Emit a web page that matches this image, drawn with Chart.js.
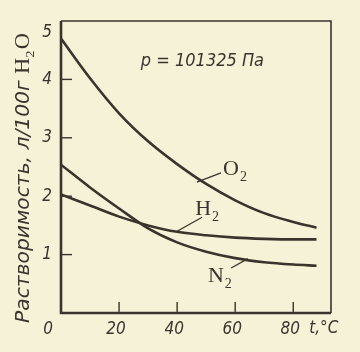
<!DOCTYPE html>
<html><head><meta charset="utf-8">
<script src="https://cdn.jsdelivr.net/npm/chart.js@4"></script>
<style>html,body{margin:0;padding:0;background:#f5f2d8;}canvas{display:block}</style>
</head><body>
<canvas id="c" width="360" height="352"></canvas>
<script>
const temps = [0,10,20,30,40,50,60,70,80,88];
const o2 = [4.70,4.02,3.42,2.94,2.55,2.21,1.93,1.71,1.56,1.46];
const h2 = [2.03,1.84,1.65,1.50,1.39,1.33,1.29,1.27,1.26,1.26];
const n2 = [2.54,2.15,1.79,1.45,1.21,1.05,0.94,0.87,0.83,0.81];
const xTickValues = [0,20,40,60,80];
const xTickLabels = ['0','20','40','60','80'];
const yTickValues = [1,2,3,4,5];
const yTickLabels = ['1','2','3','4','5'];
const xUnit = 't,°C';
const yTitleMain = 'Растворимость, л/100г ';
const pressureText = 'p = 101325 Па';

const INK = 'rgb(58,52,44)';
const BG = 'rgb(245,242,216)';
const SANS_I = (s)=>`italic ${s}px "DejaVu Sans Condensed","Liberation Sans Narrow","DejaVu Sans",sans-serif`;
const SERIF = (s)=>`${s}px "Liberation Serif","DejaVu Serif",serif`;

const mk = (arr)=>temps.map((t,i)=>({x:t,y:arr[i]}));

function gasLabel(ctx, x, y, letter){
  ctx.font = SERIF(22);
  ctx.fillText(letter, x, y);
  const w = ctx.measureText(letter).width;
  ctx.font = SERIF(14);
  ctx.fillText('2', x + w + 1, y + 6);
}

const deco = {
  id:'deco',
  beforeDraw(chart){
    const ctx = chart.ctx;
    ctx.save(); ctx.fillStyle = BG; ctx.fillRect(0,0,chart.width,chart.height); ctx.restore();
  },
  afterDatasetsDraw(chart){
    const ctx = chart.ctx, a = chart.chartArea;
    const xs = chart.scales.x, ys = chart.scales.y;
    const P = (t,v)=>[xs.getPixelForValue(t), ys.getPixelForValue(v)];
    ctx.save();
    ctx.strokeStyle = INK; ctx.fillStyle = INK;
    // frame
    ctx.lineWidth = 1.6;
    ctx.beginPath(); ctx.moveTo(a.left, a.top); ctx.lineTo(a.right, a.top); ctx.lineTo(a.right, a.bottom); ctx.stroke();
    ctx.lineWidth = 2.6;
    ctx.beginPath(); ctx.moveTo(a.left, a.top); ctx.lineTo(a.left, a.bottom); ctx.lineTo(a.right, a.bottom); ctx.stroke();
    // ticks
    ctx.lineWidth = 1.4;
    yTickValues.forEach(v=>{ if(v>=5) return; const y = ys.getPixelForValue(v);
      ctx.beginPath(); ctx.moveTo(a.left, y); ctx.lineTo(a.left+11, y); ctx.stroke(); });
    xTickValues.forEach(t=>{ if(t<=0) return; const x = xs.getPixelForValue(t);
      ctx.beginPath(); ctx.moveTo(x, a.bottom); ctx.lineTo(x, a.bottom-11); ctx.stroke(); });
    // tick labels
    ctx.font = SANS_I(17); ctx.textAlign='center'; ctx.textBaseline='middle';
    yTickValues.forEach((v,i)=>{ let y = ys.getPixelForValue(v); if(v>=5) y += 12;
      ctx.fillText(yTickLabels[i], a.left-14, y); });
    xTickValues.forEach((t,i)=>{ let x = xs.getPixelForValue(t) - 3; if(t<=0) x -= 10;
      ctx.fillText(xTickLabels[i], x, a.bottom+17); });
    ctx.textAlign='left';
    ctx.fillText(xUnit, xs.getPixelForValue(85.5), a.bottom+16);
    // pressure annotation
    ctx.textBaseline='alphabetic';
    ctx.font = SANS_I(18);
    let [px,py] = P(27.5, 4.23);
    ctx.fillText(pressureText, px, py);
    // gas labels + leaders
    ctx.lineWidth = 1.3;
    const leaders = [[46.8,2.24,55.1,2.40],[40,1.40,48.6,1.64],[58.6,0.77,64.4,0.93]];
    leaders.forEach(l=>{ const [x1,y1]=P(l[0],l[1]); const [x2,y2]=P(l[2],l[3]);
      ctx.beginPath(); ctx.moveTo(x1,y1); ctx.lineTo(x2,y2); ctx.stroke(); });
    let q;
    q = P(55.8, 2.36); gasLabel(ctx, q[0], q[1], 'O');
    q = P(46.2, 1.68); gasLabel(ctx, q[0], q[1], 'H');
    q = P(50.6, 0.53); gasLabel(ctx, q[0], q[1], 'N');
    // y title
    ctx.translate(29, 323);
    ctx.rotate(-Math.PI/2);
    ctx.font = SANS_I(20);
    const w1 = ctx.measureText(yTitleMain).width;
    ctx.font = SERIF(20); const wH = ctx.measureText('H').width; const wO = ctx.measureText('O').width;
    ctx.font = SERIF(13); const w2 = ctx.measureText('2').width;
    const total = w1 + wH + w2 + 1 + wO;
    const sc = 290/total;
    ctx.scale(sc, 1);
    ctx.textBaseline='alphabetic';
    ctx.font = SANS_I(20); ctx.fillText(yTitleMain, 0, 0);
    ctx.font = SERIF(20); ctx.fillText('H', w1, 0);
    ctx.font = SERIF(13); ctx.fillText('2', w1+wH, 5);
    ctx.font = SERIF(20); ctx.fillText('O', w1+wH+w2+1, 0);
    ctx.restore();
  }
};

const ds = (arr)=>({data: mk(arr), borderColor: INK, borderWidth: 2.6, pointRadius: 0, fill:false, cubicInterpolationMode:'monotone'});

new Chart(document.getElementById('c'), {
  type:'line',
  data:{ datasets:[ds(o2), ds(h2), ds(n2)] },
  options:{
    responsive:false, animation:false, devicePixelRatio:1,
    layout:{ padding:{left:0, top:21, right:29, bottom:0} },
    plugins:{ legend:{display:false}, tooltip:{enabled:false} },
    scales:{
      x:{ type:'linear', min:0, max:93, grid:{display:false}, border:{display:false}, ticks:{display:false},
          afterFit(s){ s.height = 39; } },
      y:{ min:0, max:5, grid:{display:false}, border:{display:false}, ticks:{display:false},
          afterFit(s){ s.width = 61; } }
    }
  },
  plugins:[deco]
});
</script>
</body></html>
